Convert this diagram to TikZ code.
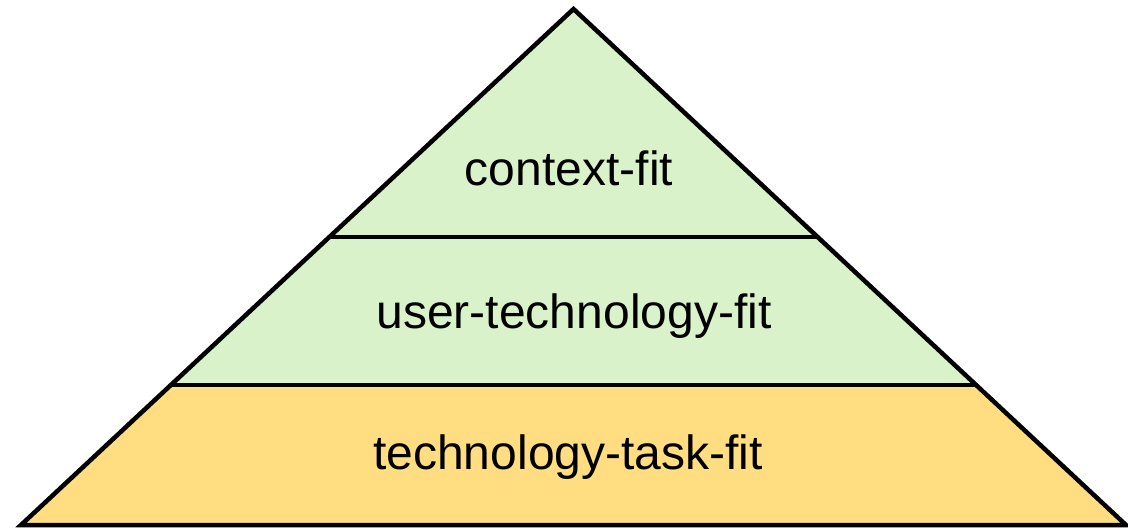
\documentclass[tikz,border=0pt]{standalone}
\usepackage{fontspec}
\setmainfont{Liberation Sans}
\definecolor{layergreen}{HTML}{D9F2C9}
\definecolor{layeryellow}{HTML}{FFDD80}
\tikzset{
  edge/.style={line width=4.5pt, line join=miter, draw=black},
  label/.style={font=\fontsize{48pt}{52pt}\selectfont, anchor=base, inner sep=0pt}
}
\begin{document}
\begin{tikzpicture}[x=1pt,y=-1pt]
\useasboundingbox (0,0) rectangle (1128,531);
\coordinate (apex) at (573.5,9);
\coordinate (bl) at (21,525);
\coordinate (br) at (1126,525);
\coordinate (ml1) at (328.5,237);
\coordinate (mr1) at (818.5,237);
\coordinate (ml2) at (170,385);
\coordinate (mr2) at (977,385);
\fill[layergreen] (apex) -- (ml1) -- (mr1) -- cycle;
\fill[layergreen] (ml1) -- (ml2) -- (mr2) -- (mr1) -- cycle;
\fill[layeryellow] (ml2) -- (bl) -- (br) -- (mr2) -- cycle;
\draw[edge] (ml1) -- (mr1);
\draw[edge] (ml2) -- (mr2);
\draw[edge] (apex) -- (bl) -- (br) -- cycle;
\node[label] (t1) at (569,185) {context-fit};
\node[label] (t2) at (574,328) {user-technology-fit};
\node[label] (t3) at (568,469) {technology-task-fit};
\end{tikzpicture}
\end{document}
